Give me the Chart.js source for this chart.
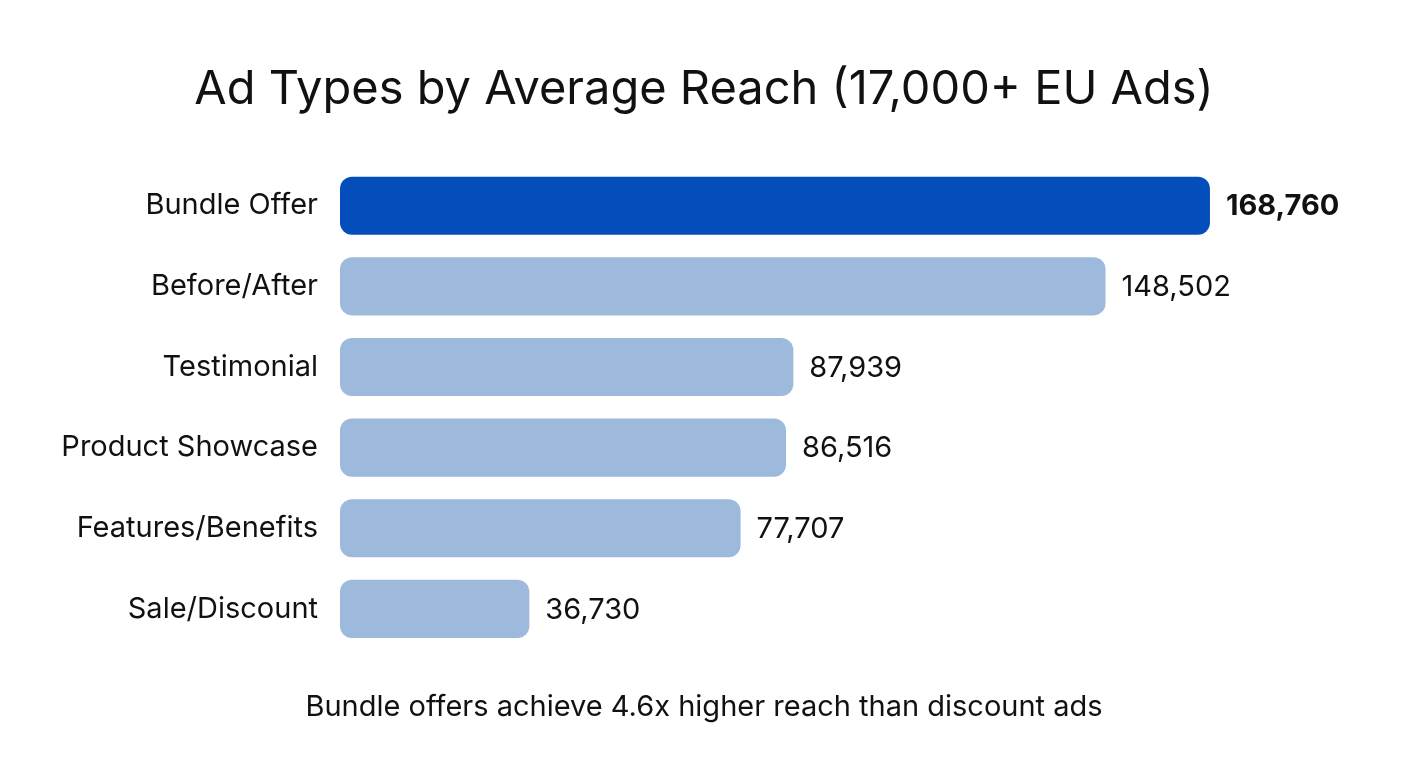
<!DOCTYPE html>
<html lang="en">
<head>
  <meta charset="UTF-8" />
  <title>Ad Types by Average Reach</title>
  <script src="https://cdn.jsdelivr.net/npm/chart.js"></script>
  <style>
    html, body { margin: 0; padding: 0; background: #fff; }
    #wrap { width: 1408px; height: 768px; }
  </style>
</head>
<body>
  <div id="wrap"><canvas id="reachChart"></canvas></div>

  <script>
    const adTypes = ['Bundle Offer', 'Before/After', 'Testimonial', 'Product Showcase', 'Features/Benefits', 'Sale/Discount'];
    const avgReach = [168760, 148502, 87939, 86516, 77707, 36730];
    const barColors = ['#034EBB', '#9DB9DB', '#9DB9DB', '#9DB9DB', '#9DB9DB', '#9DB9DB'];

    const FONT = 'Inter, "Noto Sans", sans-serif';

    // numbers at the end of each bar
    const valueLabels = {
      id: 'valueLabels',
      afterDatasetsDraw(chart) {
        const ctx = chart.ctx;
        const meta = chart.getDatasetMeta(0);
        ctx.save();
        ctx.textBaseline = 'middle';
        ctx.textAlign = 'left';
        ctx.fillStyle = '#111';
        meta.data.forEach((bar, i) => {
          ctx.font = (i === 0 ? '700 ' : '400 ') + '29px ' + FONT;
          ctx.fillText(avgReach[i].toLocaleString('en-US'), bar.x + 16, bar.y + 1);
        });
        ctx.restore();
      }
    };

    new Chart(document.getElementById('reachChart'), {
      type: 'bar',
      data: {
        labels: adTypes,
        datasets: [{
          data: avgReach,
          backgroundColor: barColors,
          borderRadius: 12,
          borderSkipped: false,
          barPercentage: 0.72,
          categoryPercentage: 1
        }]
      },
      options: {
        indexAxis: 'y',
        responsive: true,
        maintainAspectRatio: false,
        animation: false,
        layout: { padding: { left: 20, right: 20, top: 0, bottom: 0 } },
        plugins: {
          legend: { display: false },
          tooltip: { enabled: false },
          title: {
            display: true,
            text: 'Ad Types by Average Reach (17,000+ EU Ads)',
            color: '#111',
            font: { family: FONT, size: 47, weight: '400' },
            padding: { top: 62, bottom: 47 }
          },
          subtitle: {
            display: true,
            position: 'bottom',
            text: 'Bundle offers achieve 4.6x higher reach than discount ads',
            color: '#111',
            font: { family: FONT, size: 29, weight: '400' },
            padding: { top: 41, bottom: 43 }
          }
        },
        scales: {
          x: {
            display: false,
            min: 0,
            max: 203300
          },
          y: {
            afterFit(scale) { scale.width = 320; },
            grid: { display: false },
            border: { display: false },
            ticks: {
              color: '#111',
              padding: 14,
              font: { family: FONT, size: 29, weight: '400' }
            }
          }
        }
      },
      plugins: [valueLabels]
    });
  </script>
</body>
</html>
